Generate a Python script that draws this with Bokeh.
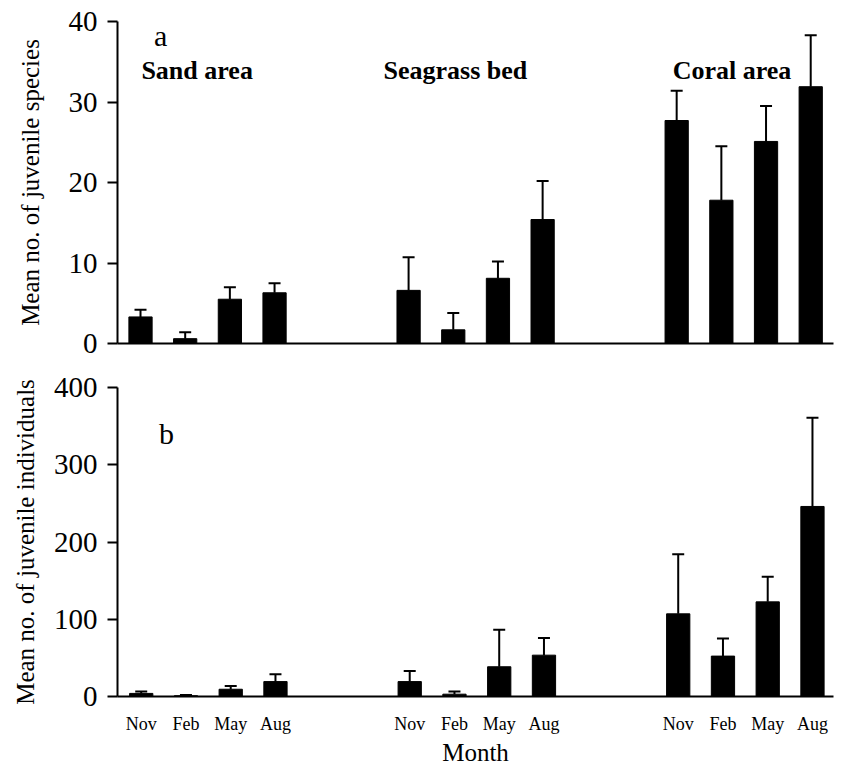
import numpy as np
from bokeh.plotting import figure
from bokeh.layouts import column
from bokeh.models import (ColumnDataSource, Range1d, FixedTicker, Whisker, TeeHead, Label)
from bokeh.embed import file_html
from bokeh.resources import INLINE

# ---- data ----
groups = ["Sand area", "Seagrass  bed", "Coral area"]
months = ["Nov", "Feb", "May", "Aug"]

species_sand = [3.3, 0.6, 5.5, 6.3]
species_seagrass = [6.6, 1.7, 8.1, 15.4]
species_coral = [27.7, 17.8, 25.1, 31.9]
species_err_sand = [0.9, 0.8, 1.5, 1.2]
species_err_seagrass = [4.1, 2.1, 2.1, 4.8]
species_err_coral = [3.7, 6.7, 4.4, 6.4]

indiv_sand = [4, 1, 9.4, 19.3]
indiv_seagrass = [19.3, 3, 38.5, 53.5]
indiv_coral = [107, 52.3, 122.5, 246]
indiv_err_sand = [2.4, 1, 4.3, 9.4]
indiv_err_seagrass = [13.7, 3.4, 47.8, 22.3]
indiv_err_coral = [77, 22.7, 32.5, 115]

species_ticks = [0, 10, 20, 30, 40]
indiv_ticks = [0, 100, 200, 300, 400]

# ---- layout helpers ----
GAP = 6  # slots per group (4 bars + 2 empty)
xpos = [g * GAP + m for g in range(len(groups)) for m in range(len(months))]
xlabels = {x: months[i % 4] for i, x in enumerate(xpos)}

FONT = "Liberation Serif"


def style(p, yticks):
    p.toolbar_location = None
    p.outline_line_color = None
    p.xgrid.visible = False
    p.ygrid.visible = False
    p.background_fill_color = "white"
    p.border_fill_color = "white"
    ya = p.yaxis[0]
    ya.ticker = FixedTicker(ticks=yticks)
    ya.axis_line_width = 2
    ya.major_tick_line_width = 2
    ya.major_tick_out = 10
    ya.major_tick_in = 0
    ya.minor_tick_out = 0
    ya.minor_tick_in = 0
    ya.major_label_text_font = FONT
    ya.major_label_text_font_size = "29px"
    ya.major_label_text_color = "black"
    ya.major_label_standoff = 10
    ya.axis_label_text_font = FONT
    ya.axis_label_text_font_size = "25px"
    ya.axis_label_text_font_style = "normal"
    ya.axis_label_text_color = "black"
    xa = p.xaxis[0]
    xa.axis_line_width = 2
    xa.major_tick_out = 0
    xa.major_tick_in = 0
    xa.minor_tick_out = 0
    xa.minor_tick_in = 0


def draw(p, vals, errs):
    tops = [v for grp in vals for v in grp]
    e = [v for grp in errs for v in grp]
    src = ColumnDataSource(dict(x=xpos, top=tops, upper=[t + d for t, d in zip(tops, e)]))
    p.add_layout(Whisker(base="x", lower="top", upper="upper", source=src,
                         line_width=2, line_color="black",
                         upper_head=TeeHead(size=12, line_width=2, line_color="black"),
                         lower_head=None, level="underlay"))
    p.vbar(x="x", top="top", bottom=0, width=0.52, source=src,
           fill_color="black", line_color="black")


# ---- top panel ----
p1 = figure(width=842, height=362, output_backend="svg", toolbar_location=None,
            x_range=Range1d(-0.515, 15.51), y_range=Range1d(0, 40),
            min_border_left=117, min_border_right=9, min_border_top=21, min_border_bottom=19)
style(p1, species_ticks)
p1.yaxis.axis_label = "Mean no. of juvenile species"
p1.yaxis.axis_label_standoff = 22
p1.xaxis.ticker = FixedTicker(ticks=[])
p1.xaxis.major_label_text_font_size = "0px"
draw(p1, [species_sand, species_seagrass, species_coral],
     [species_err_sand, species_err_seagrass, species_err_coral])

p1.add_layout(Label(x=0.3, y=38.3, text="a", text_font=FONT, text_font_size="30px",
                    text_color="black", text_baseline="alphabetic"))
title_x = [0.02, 5.44, 11.91]
for g, tx in zip(groups, title_x):
    p1.add_layout(Label(x=tx, y=33.9, text=g, text_font=FONT, text_font_size="26px",
                        text_font_style="bold", text_color="black",
                        text_baseline="alphabetic"))

# ---- bottom panel ----
p2 = figure(width=842, height=406, output_backend="svg", toolbar_location=None,
            x_range=Range1d(-0.53, 15.47), y_range=Range1d(0, 400),
            min_border_left=117, min_border_right=0, min_border_top=25, min_border_bottom=70)
style(p2, indiv_ticks)
p2.yaxis.axis_label = "Mean no. of juvenile individuals"
p2.yaxis.axis_label_standoff = 12
p2.xaxis.ticker = FixedTicker(ticks=xpos)
p2.xaxis.major_label_overrides = xlabels
p2.xaxis.major_label_text_font = FONT
p2.xaxis.major_label_text_font_size = "18px"
p2.xaxis.major_label_text_color = "black"
p2.xaxis.major_label_standoff = 17
p2.xaxis.axis_label = "Month"
p2.xaxis.axis_label_text_font = FONT
p2.xaxis.axis_label_text_font_size = "25px"
p2.xaxis.axis_label_text_font_style = "normal"
p2.xaxis.axis_label_text_color = "black"
p2.xaxis.axis_label_standoff = 2
draw(p2, [indiv_sand, indiv_seagrass, indiv_coral],
     [indiv_err_sand, indiv_err_seagrass, indiv_err_coral])
p2.add_layout(Label(x=0.4, y=341, text="b", text_font=FONT, text_font_size="30px",
                    text_color="black", text_baseline="alphabetic"))

layout = column(p1, p2, spacing=0)
open("out.html", "w").write(file_html(layout, INLINE))
